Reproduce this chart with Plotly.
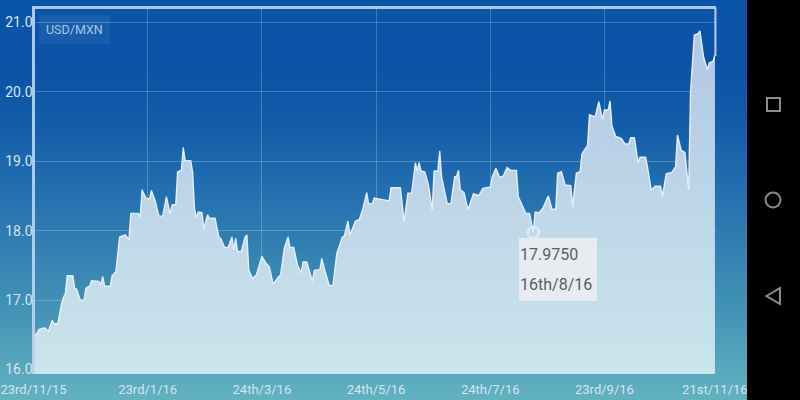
import numpy as np
import pandas as pd
import plotly.graph_objects as go

START = "2015-11-23"
days = [0,2,3,6,8,10,11,13,15,16,17,18,21,22,23,25,27,28,30,31,
        35,36,37,38,41,42,44,45,46,49,51,52,56,57,58,60,62,63,65,67,
        69,71,73,74,76,77,79,80,81,84,85,86,87,88,90,91,93,94,97,99,
        100,102,104,106,107,108,109,111,113,114,115,117,119,122,124,126,128,131,132,134,
        136,137,139,141,143,144,146,149,150,153,154,156,158,160,162,165,166,168,169,172,
        174,176,178,179,181,182,184,190,191,196,198,200,202,204,205,206,207,209,211,213,
        214,216,217,218,221,223,225,226,227,228,230,232,233,235,238,240,244,245,247,249,
        251,253,255,258,259,261,263,265,267,268,270,272,275,277,279,280,282,284,287,288,
        290,292,293,296,297,300,302,304,305,307,308,309,311,314,316,318,319,321,323,324,
        327,328,330,332,335,336,338,341,343,344,346,348,350,351,353,355,356,358,360,361,
        363,364]
usd_mxn = [16.47,16.53,16.58,16.60,16.55,16.71,16.66,16.66,16.95,17.04,17.09,17.35,17.35,17.17,17.16,17.00,17.00,17.17,17.20,17.28,
           17.27,17.22,17.34,17.20,17.20,17.35,17.41,17.63,17.91,17.94,17.87,18.25,18.25,18.20,18.59,18.47,18.46,18.58,18.43,18.21,
           18.21,18.49,18.24,18.37,18.38,18.85,18.87,19.20,19.01,19.01,18.85,18.32,18.18,18.27,18.26,18.03,18.23,18.18,18.18,17.91,
           17.89,17.76,17.76,17.91,17.72,17.89,17.70,17.70,17.91,17.94,17.43,17.31,17.36,17.63,17.54,17.48,17.23,17.34,17.36,17.75,
           17.91,17.76,17.76,17.51,17.39,17.55,17.55,17.27,17.43,17.44,17.60,17.39,17.21,17.21,17.67,17.91,17.92,18.14,17.94,18.14,
           18.16,18.32,18.55,18.39,18.39,18.47,18.46,18.43,18.62,18.62,18.13,18.54,18.54,18.98,18.86,18.98,18.86,18.85,18.66,18.30,
           18.86,18.86,19.15,18.78,18.39,18.39,18.78,18.78,18.87,18.59,18.55,18.31,18.37,18.53,18.51,18.61,18.63,18.77,18.90,18.77,
           18.79,18.91,18.87,18.87,18.49,18.37,18.25,18.25,17.975,18.27,18.26,18.32,18.50,18.31,18.31,18.83,18.85,18.66,18.65,18.35,
           18.83,18.85,19.11,19.23,19.67,19.64,19.86,19.60,19.74,19.74,19.87,19.51,19.36,19.33,19.25,19.25,19.34,19.34,18.98,19.06,
           19.06,18.92,18.58,18.64,18.64,18.50,18.82,18.84,18.92,19.38,19.16,19.13,18.59,20.01,20.82,20.84,20.88,20.50,20.32,20.42,
           20.44,20.53]
tick_days = [0, 61, 122, 183, 244, 305, 364]
tick_labels = ["23rd/11/15", "23rd/1/16", "24th/3/16", "24th/5/16", "24th/7/16", "23rd/9/16", "21st/11/16"]
y_ticks = [16, 17, 18, 19, 20, 21]
y_labels = ["16.0", "17.0", "18.0", "19.0", "20.0", "21.0"]
pair_name = "USD/MXN"
tip_day = 267
tip_value = 17.975
tip_texts = ["17.9750", "16th/8/16"]

FONT = "Roboto"
W, H = 800, 400
px = lambda v: v / W
py = lambda v: 1 - v / H

start = pd.Timestamp(START)
to_date = lambda d: start + pd.to_timedelta(d, unit="D")
dates = [to_date(d) for d in days]

fig = go.Figure()

# full-window gradient backdrop (value 0 = bottom of the window, 1 = top)
bg_stops = [0, 0.25, 0.5, 0.7, 0.85, 1]
bg_colors = ["#62b2c1", "#3f90b4", "#2672b0", "#125ca8", "#0a52a5", "#0b55a8"]
fig.add_trace(go.Heatmap(
    x=[0, 1], y=bg_stops, z=[[v, v] for v in bg_stops],
    zmin=0, zmax=1, zsmooth="best", showscale=False, hoverinfo="skip",
    colorscale=[[p, c] for p, c in zip(bg_stops, bg_colors)],
    xaxis="x", yaxis="y",
))

fig.add_trace(go.Scatter(
    x=dates, y=usd_mxn, mode="lines", xaxis="x2", yaxis="y2",
    line=dict(color="rgba(238,245,250,0.9)", width=1.4),
    fill="tozeroy",
    fillgradient=dict(type="vertical", start=15.93, stop=21.2,
                      colorscale=[[0, "rgba(211,233,240,0.93)"], [1, "rgba(190,208,232,0.93)"]]),
    hoverinfo="skip", showlegend=False,
))
fig.add_trace(go.Scatter(
    x=[to_date(tip_day)], y=[tip_value], mode="markers", xaxis="x2", yaxis="y2",
    marker=dict(size=11, color="rgba(0,0,0,0)", line=dict(color="rgba(225,238,244,0.75)", width=3)),
    hoverinfo="skip", showlegend=False,
))

ink = "#d6e4f0"
line = "rgba(190,212,240,0.9)"
shapes = [
    dict(type="line", xref="paper", yref="paper", x0=px(33.5), x1=px(33.5), y0=py(374), y1=py(7.5), line=dict(color=line, width=3)),
    dict(type="line", xref="paper", yref="paper", x0=px(32), x1=px(716), y0=py(7.5), y1=py(7.5), line=dict(color=line, width=3)),
    dict(type="line", xref="paper", yref="paper", x0=px(715.5), x1=px(715.5), y0=py(7.5), y1=py(56), line=dict(color=line, width=2)),
    dict(type="rect", xref="paper", yref="paper", x0=px(39), x1=px(110), y0=py(44), y1=py(15), line=dict(width=0), fillcolor="rgba(255,255,255,0.06)"),
    dict(type="rect", xref="paper", yref="paper", x0=px(519), x1=px(597), y0=py(301), y1=py(238), line=dict(width=0), fillcolor="#e8ebef"),
    dict(type="rect", xref="paper", yref="paper", x0=px(747), x1=1, y0=0, y1=1, line=dict(width=0), fillcolor="#000000"),
    dict(type="rect", xref="paper", yref="paper", x0=px(767), x1=px(780), y0=py(111), y1=py(98), line=dict(color="#8c8c8c", width=2)),
    dict(type="circle", xref="paper", yref="paper", x0=px(765.5), x1=px(780.5), y0=py(207.5), y1=py(192.5), line=dict(color="#8c8c8c", width=2)),
    dict(type="path", xref="paper", yref="paper", line=dict(color="#8c8c8c", width=2),
         path=f"M {px(766.5)} {py(296)} L {px(780)} {py(288)} L {px(780)} {py(304)} Z"),
]
annotations = [
    dict(text=pair_name, xref="paper", yref="paper", x=px(44), y=py(29.5), xanchor="left", yanchor="middle",
         showarrow=False, font=dict(family=FONT, size=12.5, color="#a9c6e6")),
    dict(text=tip_texts[0], xref="paper", yref="paper", x=px(518), y=py(254), xanchor="left", yanchor="middle",
         showarrow=False, font=dict(family=FONT, size=16, color="#5a5f65")),
    dict(text=tip_texts[1], xref="paper", yref="paper", x=px(518), y=py(284), xanchor="left", yanchor="middle",
         showarrow=False, font=dict(family=FONT, size=16, color="#5a5f65")),
]

fig.update_layout(
    width=W, height=H, autosize=False, margin=dict(l=0, r=0, t=0, b=0, pad=0),
    paper_bgcolor="#0b55a8", plot_bgcolor="rgba(0,0,0,0)", showlegend=False,
    shapes=shapes, annotations=annotations,
    xaxis=dict(domain=[0, 1], range=[0, 1], visible=False, fixedrange=True, automargin=False),
    yaxis=dict(domain=[0, 1], range=[0, 1], visible=False, fixedrange=True, automargin=False),
    xaxis2=dict(domain=[px(33.5), px(716)], anchor="y2", type="date", automargin=False,
                range=[to_date(0), to_date(364.6)],
                tickmode="array", tickvals=[to_date(d) for d in tick_days], ticktext=tick_labels,
                showgrid=True, gridcolor="rgba(255,255,255,0.22)", gridwidth=1,
                showline=False, zeroline=False, ticks="outside", ticklen=3, tickcolor="rgba(0,0,0,0)",
                tickangle=0, ticklabeloverflow="allow",
                tickfont=dict(family=FONT, size=13, color=ink)),
    yaxis2=dict(domain=[py(374), py(8)], anchor="x2", range=[15.935, 21.21], automargin=False,
                tickmode="array", tickvals=y_ticks, ticktext=y_labels,
                showgrid=True, gridcolor="rgba(255,255,255,0.22)", gridwidth=1,
                showline=False, zeroline=False, ticks="",
                tickfont=dict(family=FONT, size=14, color=ink)),
)

fig.write_html("out.html", config={"displayModeBar": False},
               post_script="document.body.style.margin='0';document.documentElement.style.overflow='hidden';")
